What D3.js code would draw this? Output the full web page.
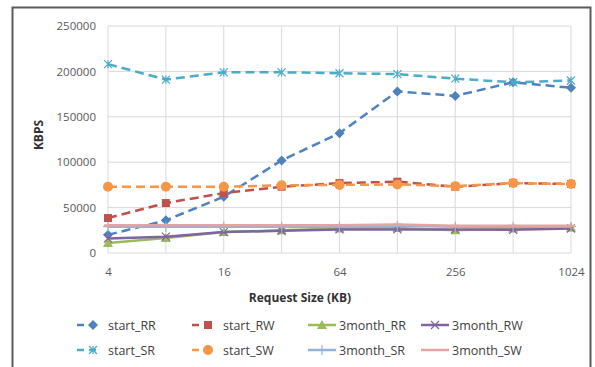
<!DOCTYPE html>
<html>
<head>
<meta charset="utf-8">
<script src="https://cdn.jsdelivr.net/npm/d3@7"></script>
<style>
  body { margin: 0; background: #fff; }
  text { font-family: "Open Sans", "Liberation Sans", sans-serif; }
</style>
</head>
<body>
<svg width="595" height="367"></svg>
<script>
// request sizes in KB and throughput values
const sizes = [4, 8, 16, 32, 64, 128, 256, 512, 1024];
const xTickLabels = [4, 16, 64, 256, 1024];
const yTicks = [0, 50000, 100000, 150000, 200000, 250000];

const startRR = [20000, 36000, 62000, 102000, 132000, 178000, 173000, 188000, 182000];
const startRW = [38500, 55000, 66000, 73000, 77000, 78500, 73000, 77000, 76000];
const m3RR = [11000, 16500, 23000, 25000, 27000, 27500, 25000, 27000, 28000];
const m3RW = [16000, 18000, 23000, 24500, 26000, 26000, 26000, 25500, 27000];
const startSR = [208000, 191000, 199000, 199000, 198000, 197000, 192000, 188000, 190000];
const startSW = [73000, 73000, 73000, 74500, 75000, 75500, 73500, 77000, 76000];
const m3SR = [29000, 29000, 29000, 29000, 29000, 30000, 29000, 29000, 29000];
const m3SW = [30500, 30500, 30500, 30500, 30500, 31500, 30000, 30000, 30000];

const series = [
    { name: "start_RR", values: startRR, color: "#4F81BD", dash: true, marker: "diamond" },
    { name: "start_RW", values: startRW, color: "#C0504D", dash: true, marker: "square" },
    { name: "3month_RR", values: m3RR, color: "#9BBB59", dash: false, marker: "triangle" },
    { name: "3month_RW", values: m3RW, color: "#8064A2", dash: false, marker: "x" },
    { name: "start_SR", values: startSR, color: "#4BACC6", dash: true, marker: "star" },
    { name: "start_SW", values: startSW, color: "#F79646", dash: true, marker: "circle" },
    { name: "3month_SR", values: m3SR, color: "#95B3D7", dash: false, marker: "plus" },
    { name: "3month_SW", values: m3SW, color: "#E6A3A1", dash: false, marker: "dash" }
];

const svg = d3.select("svg");

// outer chart frame
svg.append("rect")
    .attr("x", 12.5).attr("y", 7.5)
    .attr("width", 578).attr("height", 380)
    .attr("fill", "#fff")
    .attr("stroke", "#5a5a5a")
    .attr("stroke-width", 2);

const x = d3.scaleLog().base(2).domain([4, 1024]).range([108, 571]);
const y = d3.scaleLinear().domain([0, 250000]).range([253, 26]);

// gridlines
svg.append("g").selectAll("line").data(yTicks).enter()
    .append("line")
    .attr("x1", 108).attr("x2", 571)
    .attr("y1", d => y(d)).attr("y2", d => y(d))
    .attr("stroke", "#d9d9d9").attr("stroke-width", 1);
svg.append("g").selectAll("line").data(sizes).enter()
    .append("line")
    .attr("x1", d => x(d)).attr("x2", d => x(d))
    .attr("y1", y(0)).attr("y2", y(250000))
    .attr("stroke", "#d9d9d9").attr("stroke-width", 1);

// y axis
const yAxis = svg.append("g")
    .attr("transform", "translate(108,0)")
    .call(d3.axisLeft(y).tickValues(yTicks).tickSize(0).tickPadding(12).tickFormat(d3.format("d")));
yAxis.select(".domain").remove();
yAxis.selectAll("text").attr("font-size", "11.5px").attr("fill", "#595959")
    .attr("font-family", "'Open Sans', sans-serif");

// x axis
const xAxis = svg.append("g")
    .attr("transform", "translate(0,253)")
    .call(d3.axisBottom(x).tickValues(xTickLabels).tickSize(0).tickPadding(15).tickFormat(d3.format("d")));
xAxis.select(".domain").remove();
xAxis.selectAll("text").attr("font-size", "11.5px").attr("fill", "#595959")
    .attr("font-family", "'Open Sans', sans-serif");

// axis titles
svg.append("text")
    .attr("transform", "translate(43,135) rotate(-90)")
    .attr("text-anchor", "middle")
    .attr("font-size", "12px").attr("font-weight", "bold").attr("fill", "#333")
    .text("KBPS");
svg.append("text")
    .attr("x", 300).attr("y", 302)
    .attr("text-anchor", "middle")
    .attr("font-size", "12px").attr("font-weight", "bold").attr("fill", "#333")
    .text("Request Size (KB)");

function drawMarker(g, type, cx, cy, color) {
    if (type === "diamond") {
        g.append("path").attr("d", `M${cx},${cy - 5}L${cx + 5},${cy}L${cx},${cy + 5}L${cx - 5},${cy}Z`)
            .attr("fill", color);
    } else if (type === "square") {
        g.append("rect").attr("x", cx - 4).attr("y", cy - 4).attr("width", 8).attr("height", 8)
            .attr("fill", color);
    } else if (type === "triangle") {
        g.append("path").attr("d", `M${cx},${cy - 5}L${cx + 5},${cy + 4}L${cx - 5},${cy + 4}Z`)
            .attr("fill", color);
    } else if (type === "circle") {
        g.append("circle").attr("cx", cx).attr("cy", cy).attr("r", 5).attr("fill", color);
    } else if (type === "x") {
        g.append("path").attr("d", `M${cx - 4},${cy - 4}L${cx + 4},${cy + 4}M${cx - 4},${cy + 4}L${cx + 4},${cy - 4}`)
            .attr("stroke", color).attr("stroke-width", 1.2);
    } else if (type === "star") {
        g.append("path").attr("d", `M${cx - 4},${cy - 4}L${cx + 4},${cy + 4}M${cx - 4},${cy + 4}L${cx + 4},${cy - 4}M${cx},${cy - 4}L${cx},${cy + 4}`)
            .attr("stroke", color).attr("stroke-width", 1.2);
    } else if (type === "plus") {
        g.append("path").attr("d", `M${cx - 5},${cy}L${cx + 5},${cy}M${cx},${cy - 5}L${cx},${cy + 5}`)
            .attr("stroke", color).attr("stroke-width", 1.2);
    } else if (type === "dash") {
        g.append("path").attr("d", `M${cx - 4},${cy}L${cx + 4},${cy}`)
            .attr("stroke", color).attr("stroke-width", 2);
    }
}

const line = d3.line().x((d, i) => x(sizes[i])).y(d => y(d));

series.forEach(s => {
    const g = svg.append("g");
    g.append("path")
        .attr("d", line(s.values))
        .attr("fill", "none")
        .attr("stroke", s.color)
        .attr("stroke-width", 2.5)
        .attr("stroke-dasharray", s.dash ? "9,5" : null);
    s.values.forEach((v, i) => drawMarker(g, s.marker, x(sizes[i]), y(v), s.color));
});

// legend, two rows of four
const legX = [77, 192, 308, 421];
const legY = [325, 350];
series.forEach((s, i) => {
    const col = i % 4, row = Math.floor(i / 4);
    const lx = legX[col], ly = legY[row];
    const g = svg.append("g");
    const len = s.dash ? 24 : 28;
    g.append("line")
        .attr("x1", lx).attr("x2", lx + len)
        .attr("y1", ly).attr("y2", ly)
        .attr("stroke", s.color).attr("stroke-width", 2.5)
        .attr("stroke-dasharray", s.dash ? "7,5" : null);
    drawMarker(g, s.marker, lx + (s.dash ? 16 : len / 2), ly, s.color);
    g.append("text")
        .attr("x", lx + 31).attr("y", ly + 4.5)
        .attr("font-size", "12.5px").attr("fill", "#404040")
        .text(s.name);
});
</script>
</body>
</html>
